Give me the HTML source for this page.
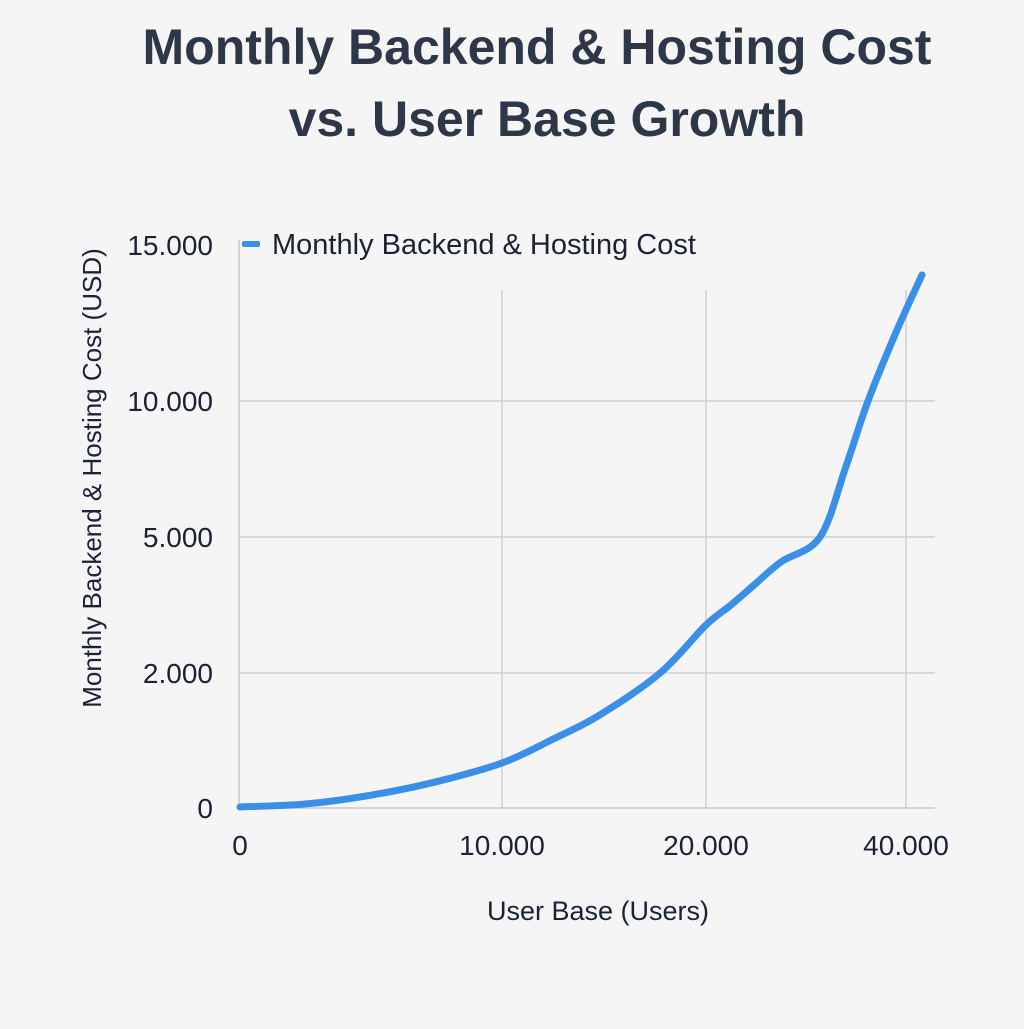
<!DOCTYPE html>
<html><head><meta charset="utf-8"><style>
body{margin:0;background:#f5f5f5;font-family:"Liberation Sans",sans-serif}
</style></head><body>
<svg id="c" width="1024" height="1024" xmlns="http://www.w3.org/2000/svg">
<rect width="1024" height="1024" fill="#f5f5f5"/>
<text x="537" y="64" text-anchor="middle" font-size="50" font-weight="bold" fill="#2d3748">Monthly Backend &amp; Hosting Cost</text>
<text x="547" y="136" text-anchor="middle" font-size="50" font-weight="bold" fill="#2d3748">vs. User Base Growth</text>
<g id="grid"></g>
<g id="ticks"></g>
<rect x="242" y="241" width="18" height="6" rx="2" fill="#3b8fe8"/>
<text x="272" y="254" font-size="29" fill="#1a2233">Monthly Backend &amp; Hosting Cost</text>
<text x="598" y="920" text-anchor="middle" font-size="27" fill="#1a2233">User Base (Users)</text>
<text transform="translate(101,478) rotate(-90)" text-anchor="middle" font-size="26" fill="#1a2233">Monthly Backend &amp; Hosting Cost (USD)</text>
<path id="line" fill="none" stroke="#3b8fe8" stroke-width="7" stroke-linecap="round" stroke-linejoin="round"/>
</svg>
<script>
const xTicks=[0,10000,20000,40000];
const xTickLabels=["0","10.000","20.000","40.000"];
const yTicks=[0,2000,5000,10000,15000];
const yTickLabels=["0","2.000","5.000","10.000","15.000"];
const users=[0,2500,5000,7500,10000,12500,14800,17750,20000,22500,24800,27500,31400,34000,36200,39000,41600];
const cost=[15,60,190,390,667,1020,1380,2000,3060,3500,3940,4450,5000,7600,10000,12200,14040];
const xPx=[240,502,706,906], yPx=[808,673,537,401,245];
function pw(v,d,r){
  let i=0; while(i<d.length-2&&v>d[i+1])i++;
  return r[i]+(v-d[i])/(d[i+1]-d[i])*(r[i+1]-r[i]);
}
const sx=v=>pw(v,xTicks,xPx), sy=v=>pw(v,yTicks,yPx);
const NS="http://www.w3.org/2000/svg";
const grid=document.getElementById('grid'), ticks=document.getElementById('ticks');
function mk(p,tag,a){const e=document.createElementNS(NS,tag);for(const k in a)e.setAttribute(k,a[k]);p.appendChild(e);return e;}
xTicks.forEach((v,i)=>{
  const x=sx(v);
  if(v>0){const l=mk(grid,'line',{x1:x,x2:x,y1:290,y2:808,stroke:'#d0d0d0','stroke-width':1.5});
  
  }
  const t=mk(ticks,'text',{x:x,y:855,'text-anchor':'middle','font-size':28,fill:'#1a2233'});
  t.textContent=xTickLabels[i];
  
  
});
yTicks.forEach((v,i)=>{
  const y=sy(v);
  if(v>0&&v<15000){const l=mk(grid,'line',{x1:240,x2:935,y1:y,y2:y,stroke:'#d0d0d0','stroke-width':1.5});
  
  }
  const t=mk(ticks,'text',{x:213,y:y+10,'text-anchor':'end','font-size':28,fill:'#1a2233'});
  t.textContent=yTickLabels[i];
  
  
});
const ax=mk(grid,'line',{x1:239,x2:239,y1:240,y2:808,stroke:'#c8c8c8','stroke-width':1.5});


const bx=mk(grid,'line',{x1:239,x2:935,y1:808,y2:808,stroke:'#c8c8c8','stroke-width':1.5});


const pts=users.map((u,i)=>[sx(u),sy(cost[i])]);
let d='M'+pts[0][0]+','+pts[0][1];
for(let i=0;i<pts.length-1;i++){
  const p0=pts[Math.max(0,i-1)],p1=pts[i],p2=pts[i+1],p3=pts[Math.min(pts.length-1,i+2)];
  d+=` C${p1[0]+(p2[0]-p0[0])/6},${p1[1]+(p2[1]-p0[1])/6} ${p2[0]-(p3[0]-p1[0])/6},${p2[1]-(p3[1]-p1[1])/6} ${p2[0]},${p2[1]}`;
}
document.getElementById('line').setAttribute('d',d);
</script>
</body></html>
